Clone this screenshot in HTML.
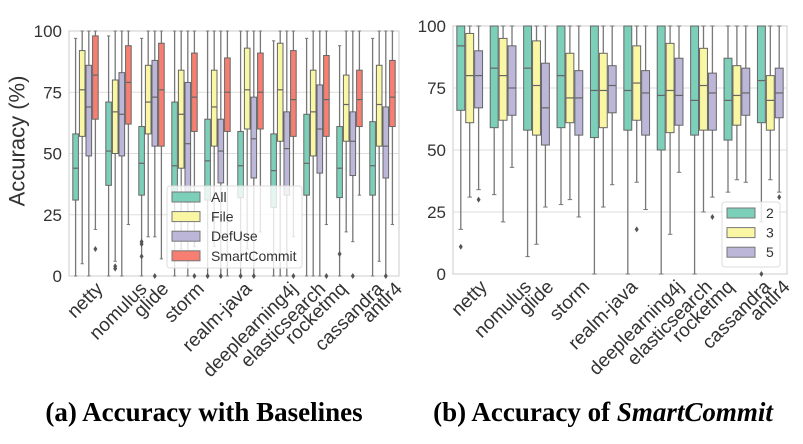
<!DOCTYPE html>
<html><head><meta charset="utf-8"><style>
body{margin:0;background:#fff;width:803px;height:439px;overflow:hidden}
svg text{font-family:"Liberation Sans",sans-serif;fill:#333}
</style></head><body>
<svg id="s" width="803" height="439" xmlns="http://www.w3.org/2000/svg"></svg>
<script>
const S=document.getElementById('s');let h='';
const names=["netty","nomulus","glide","storm","realm-java","deeplearning4j","elasticsearch","rocketmq","cassandra","antlr4"];
const C={A:"#7ccfb9",F:"#f9f6a4",D:"#bcb6d8",S:"#f67f72"};
const L=[
[[31,44,58,0,97],[57,76,92,5,100],[49,69,86,0,100],[64,82,98,19,100,[11]]],
[[37,51,71,0,98],[50,67,80,6,100,[3,4]],[49,66,83,0,100],[62,79,94,21,100]],
[[33,46,61,0,97,[8,13,14]],[58,71,86,16,100],[53,73,88,16,100,[0]],[53,76,95,7,100]],
[[31,45,71,0,100],[44,66,84,11,100],[30,54,79,0,100],[59,73,91,12,100,[0]]],
[[31,47,64,0,100,[0]],[53,69,84,12,100],[38,51,64,0,100,[0]],[59,75,89,0,100]],
[[32,45,59,0,100,[0]],[60,76,93,11,100],[40,56,73,0,100,[0]],[60,75,91,18,100]],
[[28,43,58,0,96],[55,76,95,0,100],[33,52,67,0,100],[57,72,92,16,100,[0]]],
[[33,46,66,0,97],[49,67,84,0,100],[42,60,78,0,100],[57,72,90,21,100,[0]]],
[[32,44,61,0,94,[9]],[55,70,82,18,100],[41,55,67,14,100,[0]],[61,72,84,33,100]],
[[33,45,63,0,97],[53,70,86,6,100],[40,53,69,0,100,[0]],[61,73,88,21,100]]];
const R=[
[[66,92,100,18,100,[11]],[61,80,97,31,100],[67,80,90,34,100,[30]]],
[[59,83,100,32,100],[62,80,95,21,100],[64,75,92,43,100]],
[[58,83,100,7,100],[56,76,94,12,100],[52,67,85,27,100]],
[[59,80,100,28,100],[61,71,89,30,100],[56,71,82,23,100]],
[[55,74,100,0,100],[59,74,89,27,100],[65,76,84,36,100]],
[[58,74,100,0,100],[62,77,92,37,100,[18]],[56,73,82,26,100]],
[[50,72,100,0,100],[57,74,93,16,100],[60,72,87,41,100]],
[[56,70,100,0,100],[58,76,91,25,100],[58,73,81,31,100,[23]]],
[[54,70,87,33,100],[60,72,84,38,100],[64,73,83,37,100]],
[[61,78,100,21,100,[0]],[58,70,80,38,100],[63,73,83,33,100,[31]]]];
const labs=[];
function panel(x0,x1,yt,yb,data,cols,legend,lx,ly,lw,lh){
 const Y=v=>yb-(yb-yt)*v/100;
 h+=`<rect x="${x0}" y="${yt}" width="${x1-x0}" height="${yb-yt}" fill="#fff" stroke="#ccc" stroke-width="1"/>`;
 for(const v of [0,25,50,75,100]){
  if(v>0&&v<100)h+=`<line x1="${x0}" x2="${x1}" y1="${Y(v)}" y2="${Y(v)}" stroke="#ddd"/>`;
  h+=`<text x="${x0-7}" y="${Y(v)+6}" font-size="17" text-anchor="end">${v}</text>`;}
 const n=data[0].length,pitch=(x1-x0)/10,bw=pitch*0.8/n;
 data.forEach((g,i)=>{const cx=x0+pitch*(i+.5);
  g.forEach((b,j)=>{const bx=cx-pitch*0.4+j*bw,m=bx+bw/2;
   h+=`<line x1="${m}" x2="${m}" y1="${Y(b[4])}" y2="${Y(b[2])}" stroke="#777" stroke-width="1.3"/>`;
   h+=`<line x1="${m}" x2="${m}" y1="${Y(b[0])}" y2="${Y(b[3])}" stroke="#777" stroke-width="1.3"/>`;
   h+=`<line x1="${m-bw/4}" x2="${m+bw/4}" y1="${Y(b[4])}" y2="${Y(b[4])}" stroke="#777"/>`;
   h+=`<line x1="${m-bw/4}" x2="${m+bw/4}" y1="${Y(b[3])}" y2="${Y(b[3])}" stroke="#777"/>`;
   h+=`<rect x="${bx+.5}" y="${Y(b[2])}" width="${bw-1}" height="${Y(b[0])-Y(b[2])}" fill="${cols[j]}" stroke="#666" stroke-width="1"/>`;
   h+=`<line x1="${bx+.5}" x2="${bx+bw-.5}" y1="${Y(b[1])}" y2="${Y(b[1])}" stroke="#666" stroke-width="1.2"/>`;
   (b[5]||[]).forEach(o=>{const y=Y(o);h+=`<path d="M${m} ${y-3}L${m+2} ${y}L${m} ${y+3}L${m-2} ${y}Z" fill="#555"/>`;});
  });
  labs.push([cx,yb,names[i]]);
 });
 h+=`<rect x="${lx}" y="${ly}" width="${lw}" height="${lh}" rx="3" fill="#fff" fill-opacity="0.8" stroke="#ddd"/>`;
 legend.forEach((t,k)=>{const y=ly+11+k*19.6;
  h+=`<rect x="${lx+5}" y="${y-5}" width="28" height="10" fill="${cols[k]}" stroke="#777"/>`;
  h+=`<text x="${lx+44}" y="${y+5}" font-size="14">${t}</text>`;});
}
panel(69,399,31,276,L,[C.A,C.F,C.D,C.S],["All","File","DefUse","SmartCommit"],167,186,135,82);
panel(453,787,26,274,R,[C.A,C.F,C.D],["2","3","5"],722,202,58,65);
h+=`<text transform="translate(17,141) rotate(-90)" font-size="22" text-anchor="middle" dominant-baseline="central">Accuracy (%)</text>`;
h+=`<text x="204" y="421" font-size="27" font-weight="bold" text-anchor="middle" style="font-family:'Liberation Serif',serif;fill:#000">(a) Accuracy with Baselines</text>`;
h+=`<text x="603" y="421" font-size="27" font-weight="bold" text-anchor="middle" style="font-family:'Liberation Serif',serif;fill:#000">(b) Accuracy of <tspan font-style="italic">SmartCommit</tspan></text>`;
labs.forEach((l,i)=>{h+=`<text id="lb${i}" font-size="19" text-anchor="middle" dominant-baseline="central">${l[2]}</text>`;});
S.innerHTML=h;
labs.forEach((l,i)=>{const e=document.getElementById('lb'+i);const w=e.getComputedTextLength();
 e.setAttribute('transform',`translate(${l[0]},${l[1]+10+w*0.354}) rotate(-45)`);});
</script>
</body></html>
